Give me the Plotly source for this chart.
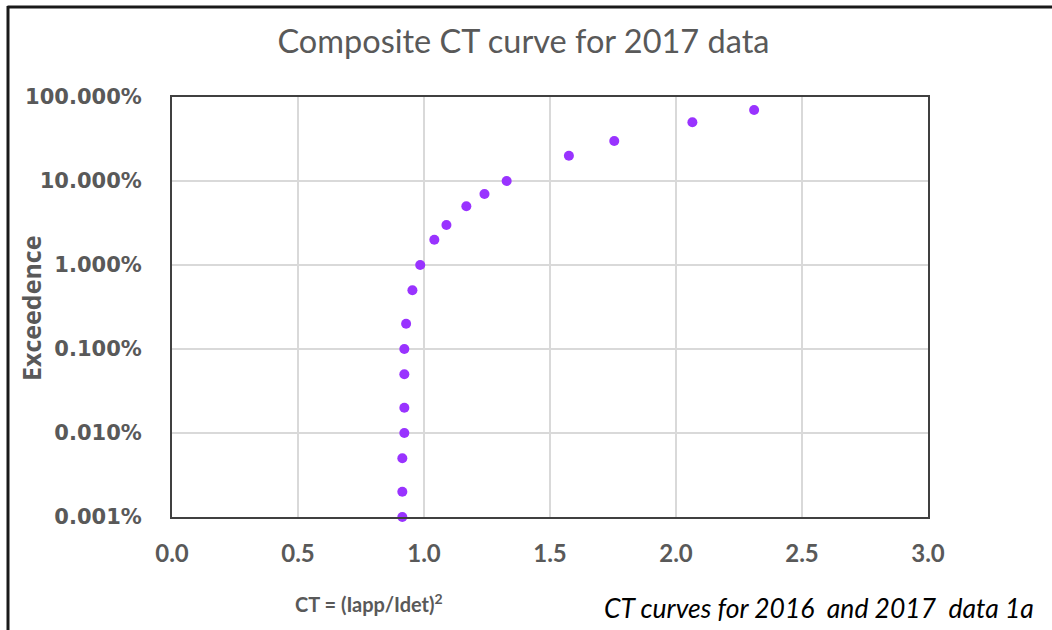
import plotly.graph_objects as go

# Data (CT value, exceedance fraction)
ct = [2.31, 2.065, 1.755, 1.575, 1.328, 1.24, 1.168, 1.089, 1.041, 0.985,
      0.954, 0.929, 0.922, 0.922, 0.922, 0.922, 0.914, 0.914, 0.914]
exceedance = [0.70, 0.50, 0.30, 0.20, 0.10, 0.07, 0.05, 0.03, 0.02, 0.01,
              0.005, 0.002, 0.001, 0.0005, 0.0002, 0.0001, 0.00005, 0.00002, 0.00001]

y_tickvals = [1e-5, 1e-4, 1e-3, 1e-2, 1e-1, 1]
y_ticktext = ["0.001%", "0.010%", "0.100%", "1.000%", "10.000%", "100.000%"]
x_tickvals = [0.0, 0.5, 1.0, 1.5, 2.0, 2.5, 3.0]
x_ticktext = ["0.0", "0.5", "1.0", "1.5", "2.0", "2.5", "3.0"]

gray = "#595959"
W, H = 1052, 630
L, R, T, B = 172, 124, 97, 113
pw, ph = W - L - R, H - T - B

def px(x):
    return (x - L) / pw

def py(y):
    return (H - B - y) / ph

fig = go.Figure()
fig.add_trace(go.Scatter(
    x=ct, y=exceedance, mode="markers",
    marker=dict(color="#9933FF", size=10, line=dict(width=0)),
    showlegend=False, cliponaxis=False,
))

fig.update_layout(
    width=W, height=H,
    margin=dict(l=L, r=R, t=T, b=B),
    paper_bgcolor="white", plot_bgcolor="white",
    title=dict(text="Composite CT curve for 2017 data", x=0.4976, xanchor="center",
               y=1 - 42 / H, yanchor="middle",
               font=dict(family="Lato", size=32.5, color=gray)),
    xaxis=dict(range=[0, 3], tickvals=x_tickvals, ticktext=x_ticktext,
               showgrid=True, gridcolor="#D9D9D9", gridwidth=1.5,
               showline=True, linecolor="#404040", linewidth=2, mirror=True,
               zeroline=False, ticks="outside", ticklen=14, tickcolor="rgba(0,0,0,0)",
               tickfont=dict(family="Lato", size=24, color=gray, weight="bold")),
    yaxis=dict(type="log", range=[-5, 0], tickvals=y_tickvals, ticktext=y_ticktext,
               showgrid=True, gridcolor="#D9D9D9", gridwidth=1.5,
               showline=True, linecolor="#404040", linewidth=2, mirror=True,
               zeroline=False, ticks="outside", ticklen=24, tickcolor="rgba(0,0,0,0)",
               tickfont=dict(family="DejaVu Sans", size=21, color=gray, weight="bold")),
)

fig.add_annotation(text="Exceedence", xref="paper", yref="paper",
                   x=px(31), y=py(308), textangle=-90, showarrow=False,
                   xanchor="center", yanchor="middle",
                   font=dict(family="Open Sans", size=25, color=gray, weight="bold"))
fig.add_annotation(text="CT = (Iapp/Idet)<sup>2</sup>", xref="paper", yref="paper",
                   x=px(369), y=py(603), showarrow=False,
                   xanchor="center", yanchor="middle",
                   font=dict(family="Lato", size=20, color=gray, weight="bold"))
fig.add_annotation(text="<i>CT curves for 2016  and 2017  data 1a</i>", xref="paper", yref="paper",
                   x=px(1036), y=py(608), showarrow=False,
                   xanchor="right", yanchor="middle",
                   font=dict(family="Lato", size=26.5, color="#000000"))

# outer chart frame (top and left edges visible)
fig.add_shape(type="line", xref="paper", yref="paper",
              x0=px(7.5), x1=px(1060), y0=py(7), y1=py(7),
              line=dict(color="#1a1a1a", width=3))
fig.add_shape(type="line", xref="paper", yref="paper",
              x0=px(8), x1=px(8), y0=py(6), y1=py(640),
              line=dict(color="#1a1a1a", width=3))

fig.write_html("out.html")
